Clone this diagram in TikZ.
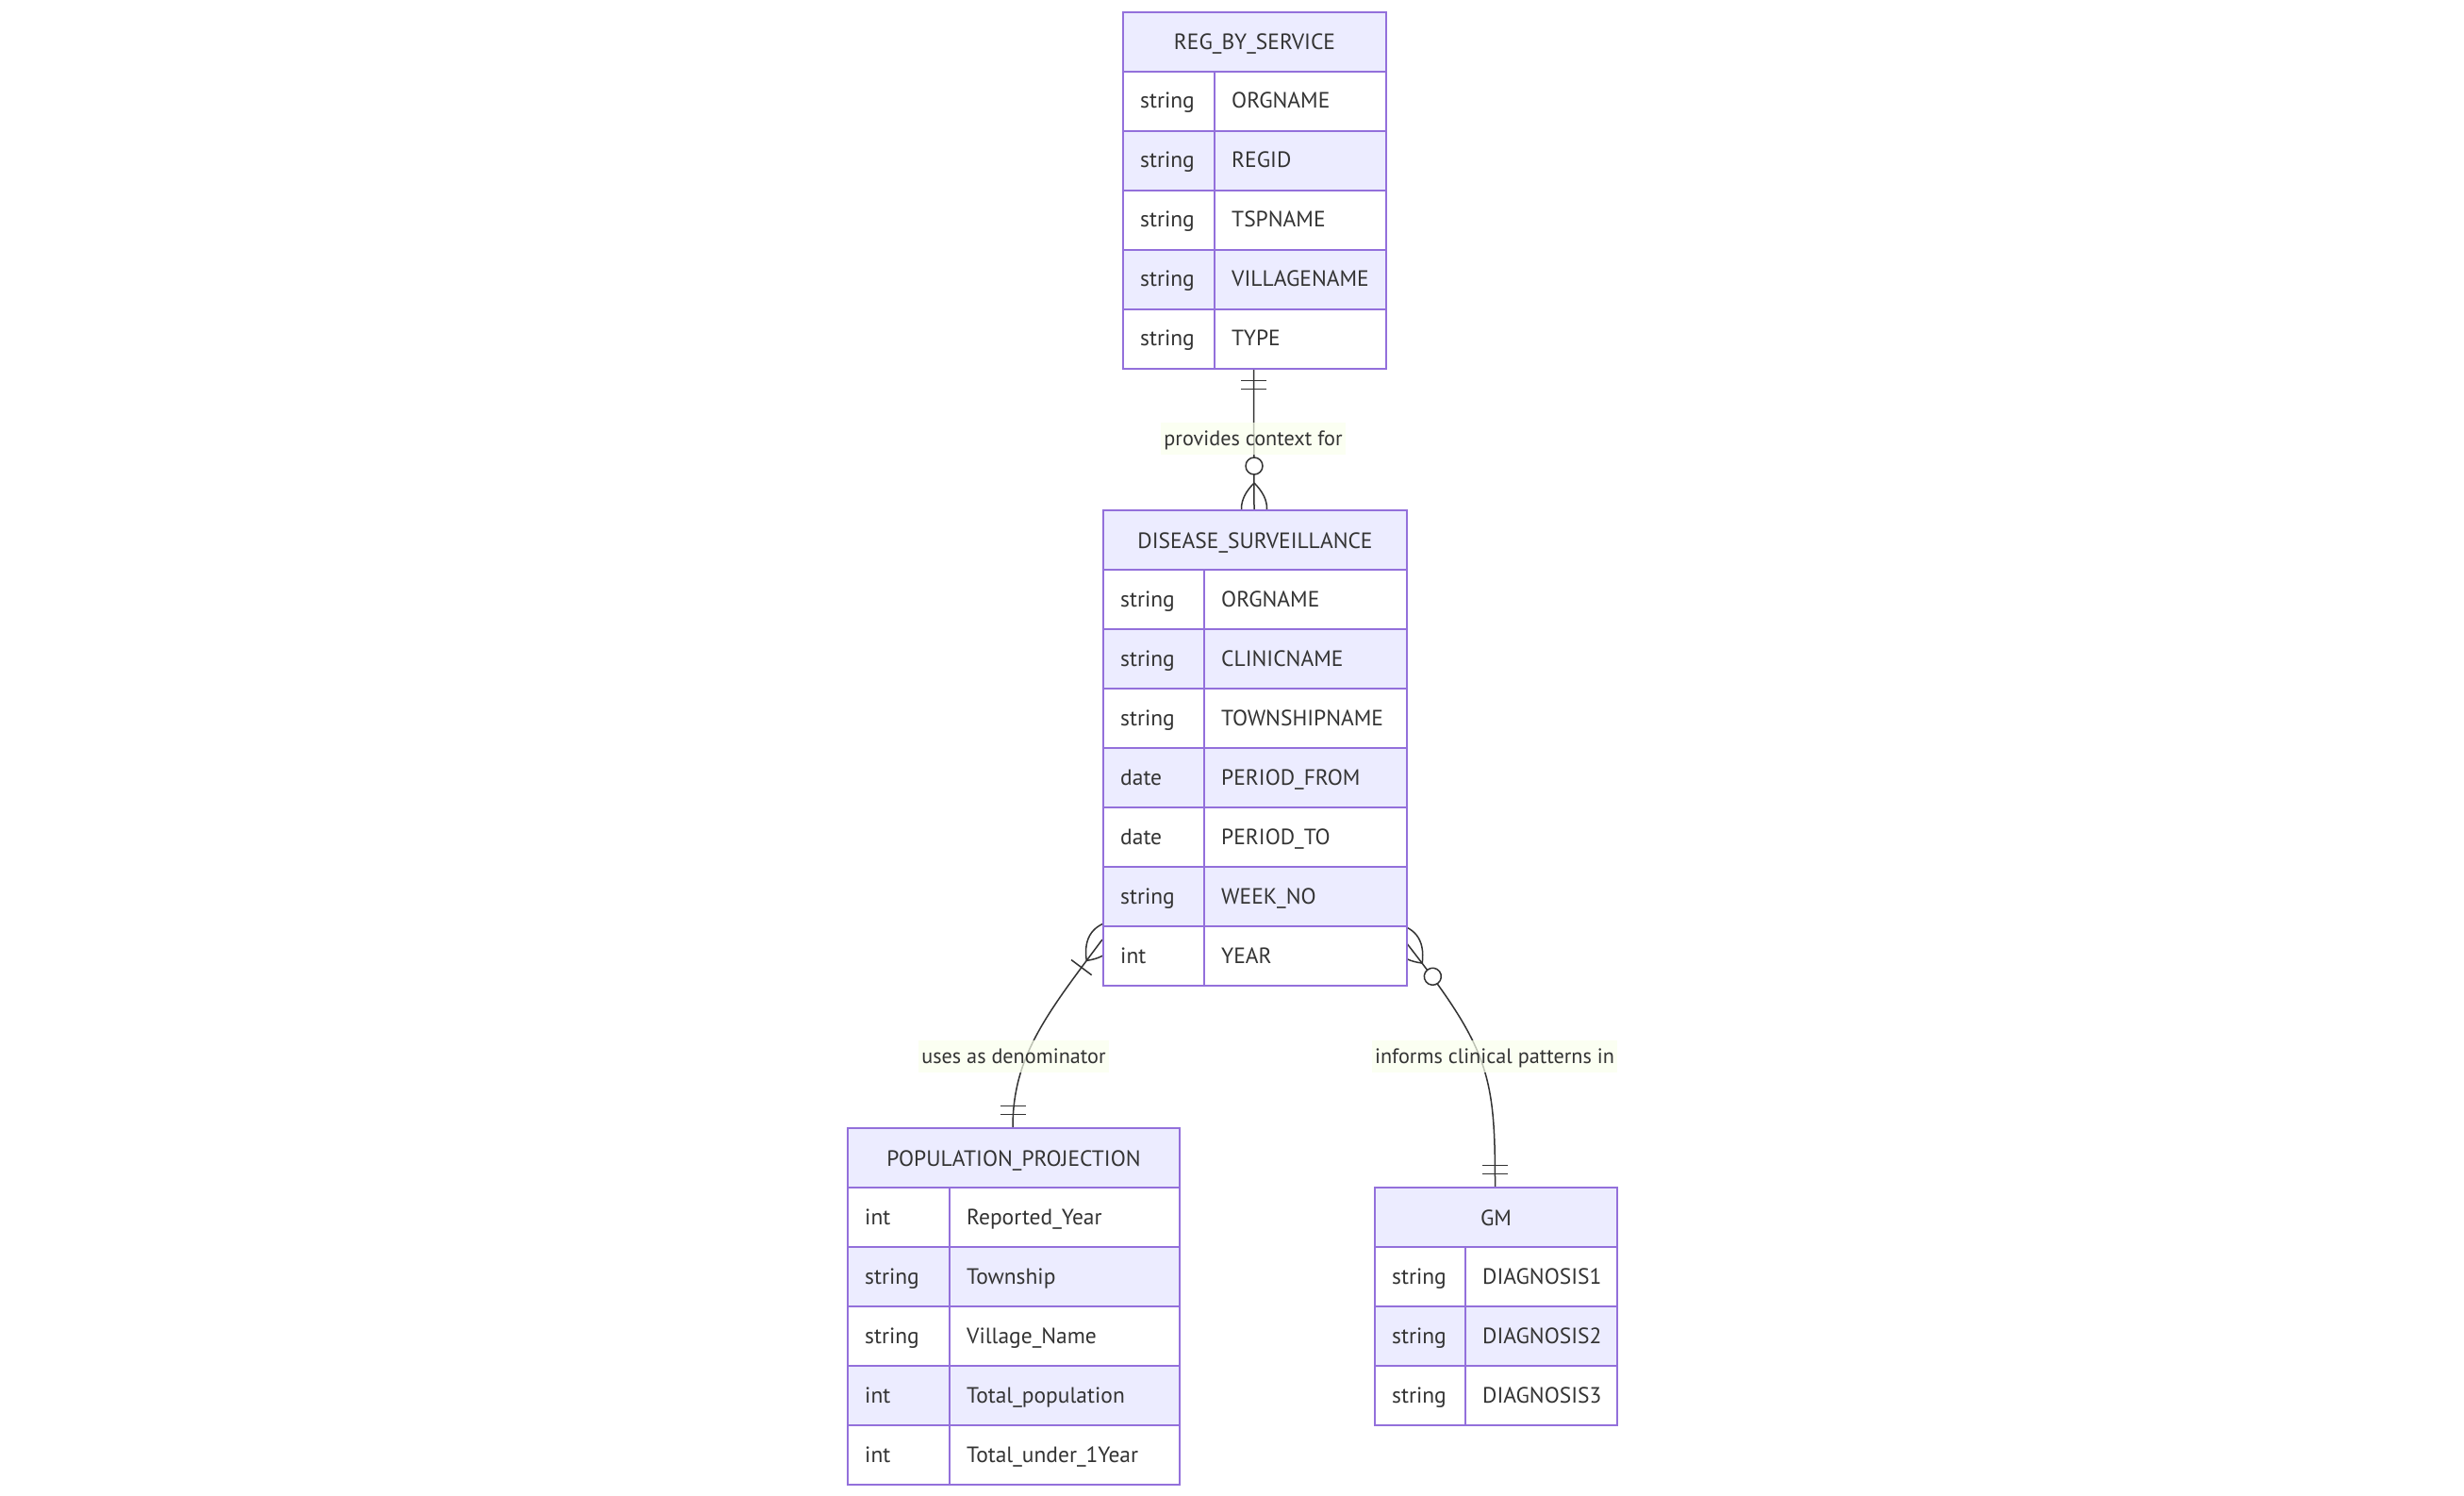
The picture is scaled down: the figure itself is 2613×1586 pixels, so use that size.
\documentclass[tikz,border=0pt]{standalone}
\usepackage{fontspec}
\setmainfont{PT Sans}
\usetikzlibrary{backgrounds}
\definecolor{erlav}{HTML}{ECECFF}
\definecolor{erpurple}{HTML}{9370DB}
\definecolor{ertxt}{HTML}{333333}
\definecolor{erlabbg}{RGB}{249,255,236}
\tikzset{
  erfont/.style={font=\fontsize{23.5}{28}\selectfont},
  erlabfont/.style={font=\fontsize{22.2}{26}\selectfont},
  erframe/.style={draw=erpurple, line width=2pt, rectangle, inner sep=0pt},
  erhead/.style={erframe, fill=erlav, minimum height=63pt, text=ertxt, erfont, text height=17pt, text depth=0pt},
  ercell/.style={erframe, minimum height=63pt},
  ertext/.style={inner sep=0pt, text=ertxt, erfont},
  eredge/.style={draw=ertxt, line width=1.5pt},
  erlabel/.style={fill=erlabbg, fill opacity=0.7, text opacity=1, text=ertxt, erlabfont, inner xsep=3pt, inner ysep=2pt, text height=22pt, text depth=8pt},
  erone/.pic={\draw[eredge] (13.5,-13.5) -- (13.5,13.5) (22.5,-13.5) -- (22.5,13.5);},
  erzeromany/.pic={\draw[eredge] (28,0) .. controls (10,18) and (-8,18) .. (-26,0)
      (28,0) .. controls (10,-18) and (-8,-18) .. (-26,0);
      \draw[eredge, fill=white] (46,0) circle[radius=9];},
  eronemany/.pic={\draw[eredge] (28,0) .. controls (10,18) and (-8,18) .. (-26,0)
      (28,0) .. controls (10,-18) and (-8,-18) .. (-26,0);
      \draw[eredge] (37,-13.5) -- (37,13.5);},
}
% #1 name, #2 x, #3 y, #4 type width, #5 name width, #6 rows, #7 header, #8 rows list
\newcommand{\ertable}[8]{%
  \node[inner sep=0pt, outer sep=0pt, minimum width=#4pt+#5pt, minimum height=63pt*(#6+1), anchor=north west] (#1) at (#2,#3) {};
  \node[erhead, minimum width=#4pt+#5pt, anchor=north west] (#1-h) at (#2,#3) {#7};
  \foreach \ty/\nm [count=\i] in {#8} {
    \pgfmathsetmacro\yy{#3+63*\i}
    \ifodd\i \def\rowfill{white}\else\def\rowfill{erlav}\fi
    \node[ercell, fill=\rowfill, minimum width=#4pt, anchor=north west] (#1-t\i) at (#2,\yy) {};
    \node[ercell, fill=\rowfill, minimum width=#5pt, anchor=north west] (#1-n\i) at (#2+#4,\yy) {};
    \node[ertext, anchor=base west] (#1-tt\i) at (#2+19,\yy+40) {\ty};
    \node[ertext, anchor=base west] (#1-nn\i) at (#2+#4+19,\yy+40) {\nm};
  }%
}
\begin{document}
\begin{tikzpicture}[x=1pt, y=-1pt]
\useasboundingbox (0,0) rectangle (2613,1586);
\ertable{reg}{1190}{12}{97}{182}{5}{REG\_BY\_SERVICE}{string/ORGNAME, string/REGID, string/TSPNAME, string/VILLAGENAME, string/TYPE}
\ertable{ds}{1169}{540}{107}{215}{7}{DISEASE\_SURVEILLANCE}{string/ORGNAME, string/CLINICNAME, string/TOWNSHIPNAME, date/PERIOD\_FROM, date/PERIOD\_TO, string/WEEK\_NO, int/YEAR}
\ertable{pp}{898}{1195}{108}{244}{5}{POPULATION\_PROJECTION}{int/Reported\_Year, string/Township, string/Village\_Name, int/Total\_population, int/Total\_under\_1Year}
\ertable{gm}{1457}{1258}{96}{161}{3}{GM}{string/DIAGNOSIS1, string/DIAGNOSIS2, string/DIAGNOSIS3}

\coordinate (e2s) at ([yshift=48pt]ds.south west);
\coordinate (e3s) at ([yshift=45pt]ds.south east);
\begin{scope}[on background layer]
  \draw[eredge] (reg.south) -- (ds.north);
  \draw[eredge] (e2s) .. controls +(-59,79) and +(0,-75) .. (pp.north);
  \draw[eredge] (e3s) .. controls +(89,114) and +(0,-118) .. (gm.north);
  \pic[rotate=-90] at (reg.south) {erone};
  \pic[rotate=90] at (ds.north) {erzeromany};
  \pic[rotate=233.2] at (e2s) {eronemany};
  \pic[rotate=90] at (pp.north) {erone};
  \pic[rotate=-52] at (e3s) {erzeromany};
  \pic[rotate=90] at (gm.north) {erone};
\end{scope}
\node[erlabel, anchor=base] (l1) at (1329,472) {provides context for};
\node[erlabel, anchor=base] (l2) at (1075,1127) {uses as denominator};
\node[erlabel, anchor=base] (l3) at (1585,1127) {informs clinical patterns in};
\end{tikzpicture}
\end{document}
